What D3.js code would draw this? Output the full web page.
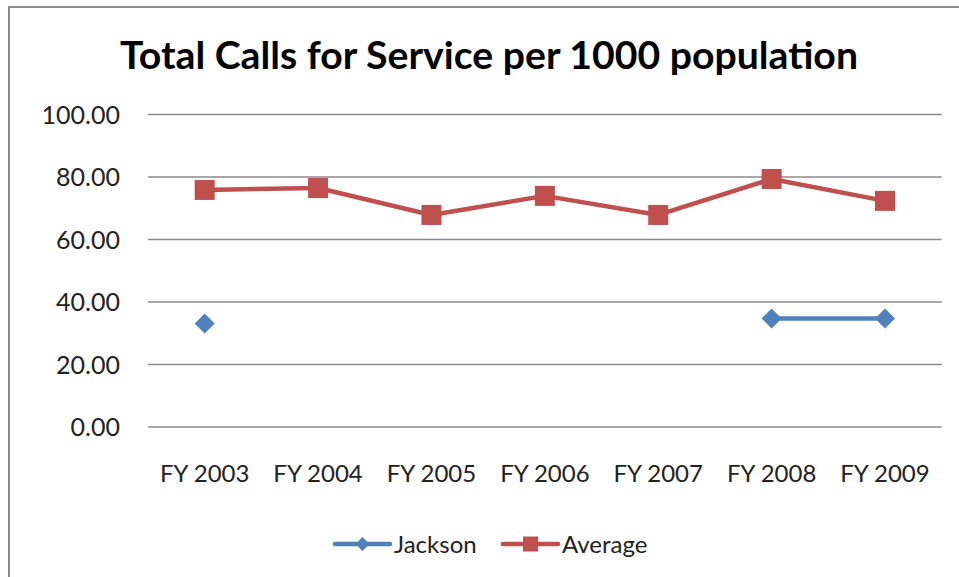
<!DOCTYPE html>
<html><head><meta charset="utf-8">
<script src="https://cdn.jsdelivr.net/npm/d3@7/dist/d3.min.js"></script>
<style>
html,body{margin:0;padding:0;background:#fff;}
svg{display:block;}
text{font-family:Lato,"Open Sans",sans-serif;}
</style></head>
<body>
<svg id="chart" width="959" height="577"></svg>
<script>
const title = "Total Calls for Service per 1000 population";
const categories = ["FY 2003","FY 2004","FY 2005","FY 2006","FY 2007","FY 2008","FY 2009"];
const jackson = [33.0, null, null, null, null, 34.6, 34.6];
const average = [75.7, 76.3, 67.7, 73.8, 67.7, 79.2, 72.2];
const yTicks = [0, 20, 40, 60, 80, 100];
const seriesNames = ["Jackson", "Average"];
const colors = ["#4F81BD", "#C0504D"];

const svg = d3.select("#chart");
svg.append("rect").attr("x", 9).attr("y", 7).attr("width", 1000).attr("height", 700)
  .attr("fill", "none").attr("stroke", "#8c8c8c").attr("stroke-width", 2);

const pLeft = 148, pRight = 941.7, pTop = 114, pBottom = 426.5;
const x = d3.scaleBand().domain(categories).range([pLeft, pRight]);
const y = d3.scaleLinear().domain([0, 100]).range([pBottom, pTop]);

svg.append("text").attr("x", 489).attr("y", 69).attr("text-anchor", "middle")
  .attr("font-size", 38).attr("font-weight", "bold").attr("fill", "#000")
  .attr("textLength", 738).attr("lengthAdjust", "spacingAndGlyphs").text(title);

const yAxis = d3.axisLeft(y).tickValues(yTicks).tickSize(-(pRight - pLeft)).tickPadding(28)
  .tickFormat(d3.format(".2f"));
const ga = svg.append("g").attr("transform", `translate(${pLeft},0)`).call(yAxis);
ga.select(".domain").remove();
ga.selectAll(".tick line").attr("stroke", "#8a8a8a").attr("stroke-width", 1.3);
ga.selectAll(".tick text").attr("font-size", 25).attr("fill", "#222")
  .attr("font-family", "Lato, sans-serif").attr("dy", "0.36em");

const xAxis = d3.axisBottom(x).tickSize(0).tickPadding(38);
const gx = svg.append("g").attr("transform", `translate(0,${pBottom})`).call(xAxis);
gx.select(".domain").remove();
gx.selectAll(".tick text").attr("font-size", 24).attr("fill", "#222")
  .attr("font-family", "Lato, sans-serif");

const cx = d => x(d) + x.bandwidth() / 2;
const line = d3.line().defined(d => d.v != null).x(d => cx(d.c)).y(d => y(d.v));
const mk = arr => categories.map((c, i) => ({c, v: arr[i]}));

const jd = mk(jackson), ad = mk(average);
svg.append("path").datum(ad).attr("d", line).attr("fill", "none")
  .attr("stroke", colors[1]).attr("stroke-width", 4.5).attr("stroke-linejoin", "round");
svg.append("path").datum(jd).attr("d", line).attr("fill", "none")
  .attr("stroke", colors[0]).attr("stroke-width", 4.5).attr("stroke-linejoin", "round");

svg.selectAll(".sq").data(ad.filter(d => d.v != null)).enter().append("rect")
  .attr("x", d => cx(d.c) - 10).attr("y", d => y(d.v) - 10)
  .attr("width", 20).attr("height", 20).attr("fill", colors[1]);
svg.selectAll(".dm").data(jd.filter(d => d.v != null)).enter().append("path")
  .attr("d", d => { const X = cx(d.c), Y = y(d.v), r = 10; return `M${X},${Y-r}L${X+r},${Y}L${X},${Y+r}L${X-r},${Y}Z`; })
  .attr("fill", colors[0]);

const ly = 544;
const leg = [{x0: 335, x1: 390, tx: 394}, {x0: 503, x1: 558, tx: 562}];
seriesNames.forEach((n, i) => {
  const L = leg[i];
  svg.append("line").attr("x1", L.x0).attr("x2", L.x1).attr("y1", ly).attr("y2", ly)
    .attr("stroke", colors[i]).attr("stroke-width", 4.5).attr("stroke-linecap", "round");
  const mx = (L.x0 + L.x1) / 2;
  if (i === 0) {
    const r = 7;
    svg.append("path").attr("d", `M${mx},${ly-r}L${mx+r},${ly}L${mx},${ly+r}L${mx-r},${ly}Z`).attr("fill", colors[0]);
  } else {
    svg.append("rect").attr("x", mx - 7.5).attr("y", ly - 7.5).attr("width", 15).attr("height", 15).attr("fill", colors[1]);
  }
  svg.append("text").attr("x", L.tx).attr("y", ly).attr("dy", "0.36em")
    .attr("font-size", 24).attr("fill", "#222").text(n);
});
</script>
</body></html>
